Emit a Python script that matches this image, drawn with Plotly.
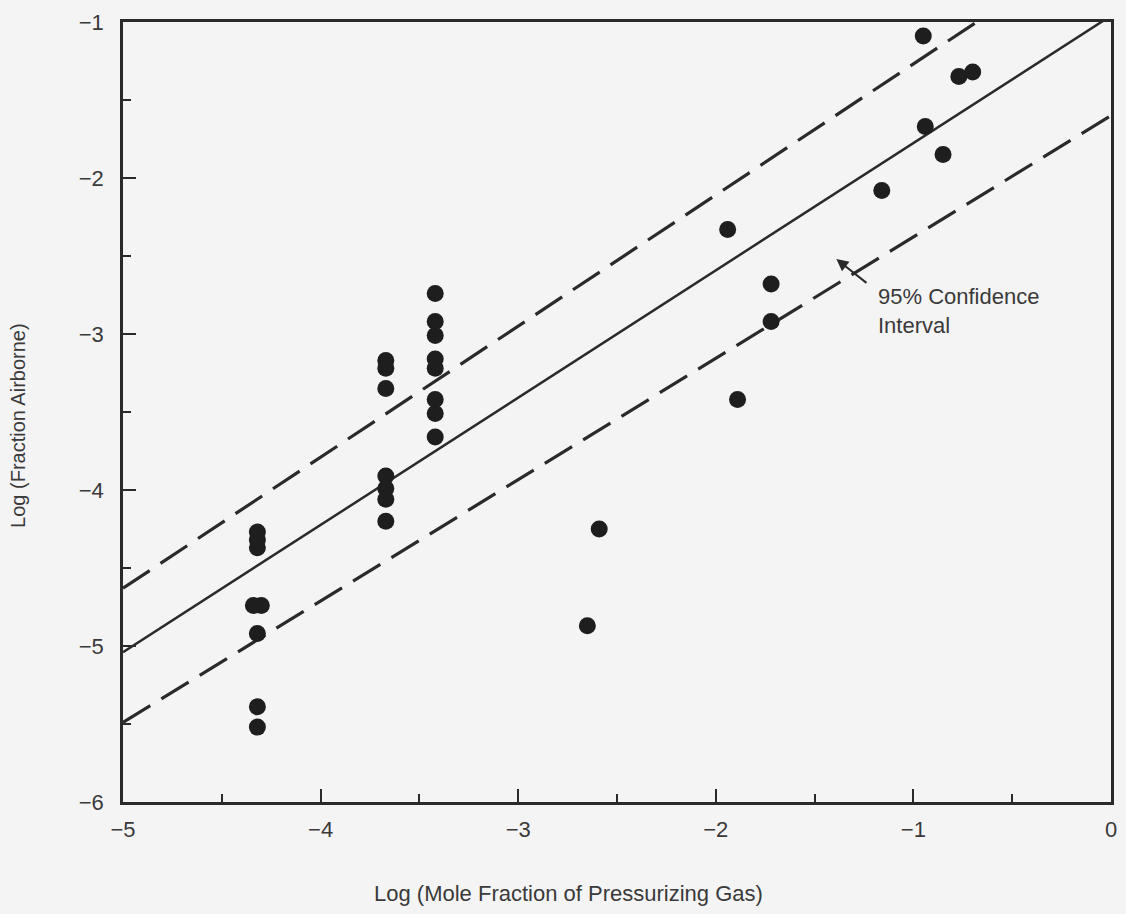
import plotly.graph_objects as go

# Data
pt_x = [-4.32, -4.32, -4.32, -4.34, -4.30, -4.32, -4.32, -4.32,
        -3.67, -3.67, -3.67, -3.67, -3.67, -3.67, -3.67,
        -3.42, -3.42, -3.42, -3.42, -3.42, -3.42, -3.42, -3.42,
        -2.65, -2.59, -1.94, -1.89, -1.72, -1.72,
        -1.16, -0.95, -0.94, -0.85, -0.77, -0.70]
pt_y = [-4.27, -4.32, -4.37, -4.74, -4.74, -4.92, -5.39, -5.52,
        -3.17, -3.22, -3.35, -3.91, -3.99, -4.06, -4.20,
        -2.74, -2.92, -3.01, -3.16, -3.22, -3.42, -3.51, -3.66,
        -4.87, -4.25, -2.33, -3.42, -2.68, -2.92,
        -2.08, -1.09, -1.67, -1.85, -1.35, -1.32]

fit_x = [-5.0, 0.0]
fit_y = [-5.04, -0.96]
upper_x = [-5.0, -0.68]
upper_y = [-4.63, -1.0]
lower_x = [-5.0, 0.0]
lower_y = [-5.49, -1.60]

x_ticks = [-5, -4, -3, -2, -1, 0]
x_labels = ["\u22125", "\u22124", "\u22123", "\u22122", "\u22121", "0"]
y_ticks = [-6, -5, -4, -3, -2, -1]
y_labels = ["\u22126", "\u22125", "\u22124", "\u22123", "\u22122", "\u22121"]

x_title = "Log (Mole Fraction of Pressurizing Gas)"
y_title = "Log (Fraction Airborne)"

ink = "#2a2a2a"
txt = "#3a3a3a"
font_family = "Liberation Sans, Arial, sans-serif"

fig = go.Figure()
fig.add_trace(go.Scatter(x=fit_x, y=fit_y, mode="lines",
                         line=dict(color=ink, width=2.5), showlegend=False))
fig.add_trace(go.Scatter(x=upper_x, y=upper_y, mode="lines",
                         line=dict(color=ink, width=3.2, dash="32px,13px"), showlegend=False))
fig.add_trace(go.Scatter(x=lower_x, y=lower_y, mode="lines",
                         line=dict(color=ink, width=3.2, dash="32px,13px"), showlegend=False))
fig.add_trace(go.Scatter(x=pt_x, y=pt_y, mode="markers",
                         marker=dict(color="#1e1e1e", size=17, line=dict(width=0)),
                         showlegend=False))

fig.add_annotation(x=-1.19, y=-2.85, xref="x", yref="y",
                   text="95% Confidence<br>Interval", showarrow=False,
                   xanchor="left", yanchor="middle", align="left",
                   font=dict(size=22, color=txt, family=font_family))
fig.add_annotation(x=-1.39, y=-2.52, ax=-1.23, ay=-2.68, axref="x", ayref="y",
                   xref="x", yref="y", text="", showarrow=True,
                   arrowhead=2, arrowsize=1.2, arrowwidth=2, arrowcolor=ink)

# Axis titles (placed as in the reference, slightly off-centre)
fig.add_annotation(x=0.451, y=-0.1167, xref="paper", yref="paper",
                   text=x_title, showarrow=False, xanchor="center", yanchor="middle",
                   font=dict(size=22, color=txt, family=font_family))
fig.add_annotation(x=-0.1056, y=0.483, xref="paper", yref="paper",
                   text=y_title, showarrow=False, textangle=-90,
                   xanchor="center", yanchor="middle",
                   font=dict(size=20, color=txt, family=font_family))

axis_common = dict(showgrid=False, zeroline=False, showline=True, linecolor=ink,
                   linewidth=2.5, mirror=True, ticks="inside", ticklen=13,
                   tickwidth=2, tickcolor=ink,
                   tickfont=dict(size=22, color=txt, family=font_family))

fig.update_xaxes(range=[-5, 0], tickvals=x_ticks, ticktext=x_labels,
                 ticklabelstandoff=6,
                 minor=dict(dtick=0.5, tick0=0, ticks="inside", ticklen=8,
                            tickwidth=1.5, tickcolor=ink),
                 **axis_common)
fig.update_yaxes(range=[-6, -1], tickvals=y_ticks, ticktext=y_labels,
                 ticklabelstandoff=12,
                 minor=dict(dtick=0.5, tick0=0, ticks="inside", ticklen=8,
                            tickwidth=1.5, tickcolor=ink),
                 **axis_common)

fig.update_layout(width=1126, height=914,
                  margin=dict(l=123, r=9, t=22, b=112),
                  paper_bgcolor="#f4f4f4", plot_bgcolor="#f4f4f4",
                  font=dict(family=font_family, color=txt))

fig.write_html("out.html")
